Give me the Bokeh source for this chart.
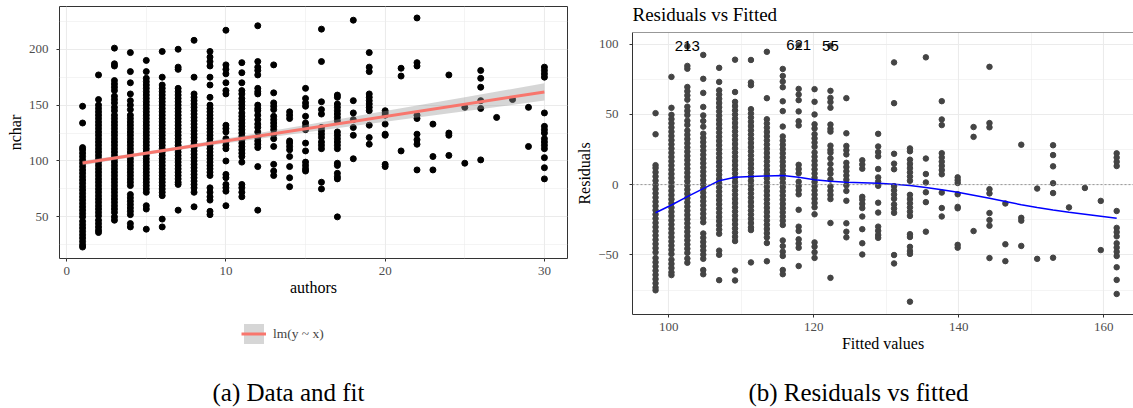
from bokeh.plotting import figure
from bokeh.models import (Range1d, FixedTicker, Label, Legend, LegendItem, Span,
                          CustomJSTickFormatter)
from bokeh.layouts import row, column
from bokeh.embed import file_html
from bokeh.resources import INLINE
from bokeh.core.properties import value

SERIF = "Liberation Serif"
SANS = "Liberation Sans"

# ---- data: nchar values observed for each number of authors ----
a01 = [149, 134, 112, 110, 107, 104, 101, 98, 95, 92, 89, 86, 83, 80, 77, 74, 71, 68, 65, 62, 59, 56, 53, 50, 46, 43, 40, 37, 34, 31, 28, 25, 23]
a02 = [177, 155, 150, 147, 144, 141, 138, 135, 132, 129, 126, 123, 120, 117, 114, 111, 108, 105, 102, 99, 96, 93, 90, 87, 84, 81, 78, 75, 72, 69, 66, 63, 60, 57, 54, 51, 47, 44, 41, 38, 36]
a03 = [201, 187, 185, 172, 169, 166, 163, 158, 155, 152, 148, 145, 141, 138, 135, 132, 129, 126, 123, 120, 117, 114, 111, 108, 105, 102, 99, 96, 93, 90, 87, 84, 81, 78, 75, 72, 69, 66, 63, 60, 57, 54, 50, 47]
a04 = [197, 180, 170, 160, 154, 150, 146, 141, 138, 135, 132, 129, 126, 123, 120, 117, 114, 111, 108, 105, 102, 99, 96, 93, 90, 87, 84, 81, 78, 70, 67, 64, 61, 58, 55, 52, 44, 41]
a05 = [190, 180, 174, 171, 168, 165, 162, 159, 156, 153, 150, 147, 144, 141, 138, 135, 132, 129, 126, 123, 120, 117, 114, 111, 108, 105, 102, 99, 96, 93, 90, 87, 84, 81, 78, 75, 72, 60, 57, 39]
a06 = [198, 175, 168, 165, 162, 159, 156, 153, 150, 147, 144, 141, 138, 135, 132, 129, 126, 123, 120, 117, 114, 111, 108, 105, 102, 99, 96, 93, 90, 87, 84, 81, 78, 75, 72, 69, 48, 41]
a07 = [200, 184, 182, 165, 162, 159, 156, 153, 150, 147, 144, 141, 138, 135, 132, 129, 126, 123, 120, 117, 114, 111, 108, 105, 102, 99, 96, 93, 90, 87, 84, 81, 79, 56]
a08 = [208, 175, 160, 157, 154, 151, 148, 145, 142, 139, 136, 133, 130, 127, 124, 121, 118, 115, 112, 109, 106, 103, 100, 97, 94, 91, 88, 85, 82, 79, 76, 72, 59]
a09 = [198, 193, 189, 185, 175, 168, 157, 150, 147, 144, 141, 138, 135, 132, 129, 126, 123, 120, 117, 114, 111, 108, 105, 102, 99, 96, 93, 90, 87, 76, 72, 68, 65, 55, 52]
a10 = [217, 186, 182, 178, 170, 163, 160, 132, 129, 126, 120, 117, 114, 111, 100, 88, 85, 79, 76, 73, 60]
a11 = [188, 179, 170, 163, 160, 156, 153, 150, 147, 143, 140, 137, 134, 131, 128, 125, 122, 119, 116, 113, 110, 107, 104, 99, 79, 76, 72, 68]
a12 = [221, 189, 184, 181, 177, 165, 162, 160, 150, 147, 145, 141, 137, 133, 130, 126, 121, 118, 115, 112, 95, 56]
a13 = [186, 161, 152, 149, 146, 140, 137, 134, 131, 128, 124, 120, 113, 97, 91, 87]
a14 = [144, 141, 138, 118, 116, 113, 110, 104, 95, 85, 77]
a15 = [165, 156, 152, 149, 140, 134, 131, 128, 116, 109, 99, 96, 93, 91]
a16 = [218, 189, 153, 146, 142, 130, 127, 124, 121, 117, 114, 111, 81, 75]
a17 = [159, 157, 151, 148, 145, 142, 139, 136, 126, 123, 120, 117, 114, 111, 98, 96, 89, 86, 84, 50]
a18 = [226, 154, 143, 137, 130, 123, 102]
a19 = [197, 184, 180, 160, 157, 154, 151, 148, 145, 132, 121, 115]
a20 = [145, 143, 141, 133, 124, 123, 97, 95]
a21 = [183, 176, 109]
a22 = [228, 188, 185, 141, 138, 124, 119, 115, 92]
a23 = [133, 104, 92]
a24 = [177, 125, 123, 105]
a25 = [148, 98]
a26 = [181, 174, 166, 154, 147, 101]
a27 = [139]
a28 = [155]
a29 = [148, 113]
a30 = [184, 181, 178, 175, 143, 131, 128, 125, 120, 117, 114, 111, 103, 94, 84]

COLUMNS = [a01, a02, a03, a04, a05, a06, a07, a08, a09, a10, a11, a12, a13, a14, a15,
           a16, a17, a18, a19, a20, a21, a22, a23, a24, a25, a26, a27, a28, a29, a30]

# fitted regression (lm(nchar ~ authors))
FIT_INTERCEPT = 95.99
FIT_SLOPE = 2.193

# confidence band half-width read along the fit
BAND_X = [1, 3, 5, 7, 10, 13, 16, 20, 25, 30]
BAND_HALF = [2.0, 1.6, 1.5, 1.6, 2.1, 2.8, 3.6, 4.8, 6.2, 7.7]

# loess smoother of residuals, evaluated at each author count
LOESS_AUTHORS = [1, 2, 3, 4, 5, 6, 7, 8, 9, 10, 11, 12, 13, 14, 15,
                 16, 17, 18, 19, 20, 21, 22, 23, 24, 25, 26, 27, 28, 29, 30]
LOESS_RESID = [-20, -14.5, -8.6, -2.8, 2.8, 5.2, 5.7, 6.2, 6.4, 5.2, 3.5, 2.4, 1.7, 1.4, 1.0,
               0.3, -0.7, -2.0, -3.6, -5.4, -7.5, -9.7, -12.0, -14.3, -16.3, -18.0, -19.6, -21.0, -22.5, -24.0]

# labelled observations (row ids) on the residual plot
LABEL_IDS = ["213", "621", "55"]
LABEL_AUTHORS = [3, 10, 12]
LABEL_NCHAR = [201, 217, 221]

# ---- assemble ----
authors, nchar = [], []
for k, vals in enumerate(COLUMNS, start=1):
    authors += [k] * len(vals)
    nchar += vals

def fit(a):
    return FIT_INTERCEPT + FIT_SLOPE * a

fitted = [fit(a) for a in authors]
resid = [n - f for n, f in zip(nchar, fitted)]

def expand(lo, hi, f=0.05):
    d = (hi - lo) * f
    return lo - d, hi + d

GRID = "#EBEBEB"
DARK = "#333333"
TICKTXT = "#4D4D4D"
BAND_COLOR = "#999999"
FIT_COLOR = "#F8766D"

def style(p):
    p.background_fill_color = "white"
    p.border_fill_color = "white"
    for ax in (p.xaxis, p.yaxis):
        ax.axis_line_color = None
        ax.major_tick_line_color = DARK
        ax.major_tick_out = 3
        ax.major_tick_in = 0
        ax.minor_tick_line_color = None
        ax.major_label_text_font = SERIF
        ax.major_label_text_font_size = "13px"
        ax.major_label_text_color = TICKTXT
        ax.axis_label_text_font = SERIF
        ax.axis_label_text_font_size = "16px"
        ax.axis_label_text_font_style = "normal"
        ax.axis_label_text_color = "black"
    for g in (p.xgrid, p.ygrid):
        g.grid_line_color = GRID
        g.grid_line_width = 1.1
        g.minor_grid_line_color = GRID
        g.minor_grid_line_width = 0.55

# strip figure above/under a panel; its frame is aligned with the panel's frame,
# so its x range is given in page pixels (frame left .. frame right)
def strip(width, height, fx0, fx1):
    s = figure(width=width, height=height, x_range=Range1d(fx0, fx1), y_range=Range1d(height, 0),
               x_axis_location=None, y_axis_location=None, output_backend="svg",
               toolbar_location=None, min_border=0)
    s.outline_line_color = None
    s.grid.visible = False
    s.background_fill_color = "white"
    s.border_fill_color = "white"
    return s

# ---- left panel: data and fit ----
x0, x1 = expand(min(authors), max(authors))
y0, y1 = expand(min(nchar), max(nchar))
p1 = figure(width=570, height=305, x_range=Range1d(x0, x1), y_range=Range1d(y0, y1),
            output_backend="svg", toolbar_location=None,
            min_border_left=59, min_border_right=3, min_border_top=6, min_border_bottom=47)
style(p1)
p1.outline_line_color = DARK
p1.outline_line_width = 1
xt1 = FixedTicker(ticks=[0, 10, 20, 30], minor_ticks=[5, 15, 25])
yt1 = FixedTicker(ticks=[50, 100, 150, 200], minor_ticks=[25, 75, 125, 175, 225])
p1.xaxis.ticker = xt1
p1.yaxis.ticker = yt1
p1.xgrid.ticker = xt1
p1.ygrid.ticker = yt1
p1.xaxis.axis_label = "authors"
p1.yaxis.axis_label = "nchar"
p1.xaxis.major_label_standoff = 4
p1.yaxis.major_label_standoff = 7
p1.xaxis.axis_label_standoff = 1
p1.yaxis.axis_label_standoff = 2

p1.scatter(authors, nchar, size=6, color="black")
p1.varea(x=BAND_X,
         y1=[fit(x) - h for x, h in zip(BAND_X, BAND_HALF)],
         y2=[fit(x) + h for x, h in zip(BAND_X, BAND_HALF)],
         fill_color=BAND_COLOR, fill_alpha=0.4)
lx = [min(authors), max(authors)]
p1.line(lx, [fit(v) for v in lx], line_color=FIT_COLOR, line_width=3)

# strip under the left panel: legend key + caption
s1 = strip(570, 103, 59, 567)
key_band = s1.varea(x=[0, 10], y1=[0, 0], y2=[10, 10], fill_color=BAND_COLOR, fill_alpha=0.4)
key_line = s1.line(x=[0, 10], y=[5, 5], line_color=FIT_COLOR, line_width=3)
legend = Legend(items=[LegendItem(label="lm(y ~ x)", renderers=[key_band, key_line])],
                location=(182, 62), glyph_width=25, glyph_height=25,
                padding=0, margin=0, label_standoff=7, spacing=0,
                label_text_font=SERIF, label_text_font_size="13.5px",
                background_fill_alpha=0, border_line_color=None)
s1.add_layout(legend)
s1.add_layout(Label(x=288, y=87, text="(a) Data and fit", text_align="center",
                    text_baseline="middle", text_font=SERIF, text_font_size="25px",
                    text_color="black"))

# ---- right panel: residuals vs fitted ----
t2 = strip(563, 30, 632, 1133)
t2.add_layout(Label(x=632, y=14, text="Residuals vs Fitted", text_align="left",
                    text_baseline="middle", text_font=SERIF, text_font_size="19px",
                    text_color="black"))

fx0, _ = expand(min(fitted), max(fitted))
ry0, ry1 = expand(min(resid), max(resid))
FX_END = 164.1
p2 = figure(width=563, height=330, x_range=Range1d(fx0, FX_END), y_range=Range1d(ry0, ry1),
            output_backend="svg", toolbar_location=None,
            min_border_left=62, min_border_right=0, min_border_top=2, min_border_bottom=46)
style(p2)
p2.outline_line_color = None
p2.xaxis.axis_line_color = DARK
p2.yaxis.axis_line_color = DARK
xt2 = FixedTicker(ticks=[100, 120, 140, 160], minor_ticks=[110, 130, 150])
yt2 = FixedTicker(ticks=[-50, 0, 50, 100], minor_ticks=[-75, -25, 25, 75])
p2.xaxis.ticker = xt2
p2.yaxis.ticker = yt2
p2.xgrid.ticker = xt2
p2.ygrid.ticker = yt2
p2.yaxis.formatter = CustomJSTickFormatter(code="return tick < 0 ? '\\u2212' + Math.abs(tick) : String(tick);")
p2.xaxis.axis_label = "Fitted values"
p2.yaxis.axis_label = "Residuals"
p2.xaxis.major_label_standoff = 4
p2.yaxis.major_label_standoff = 10
p2.xaxis.axis_label_standoff = 1
p2.yaxis.axis_label_standoff = 2
p2.add_layout(Span(location=ry1, dimension="width", line_color=DARK, line_width=1))

p2.add_layout(Span(location=0, dimension="width", line_color="#808080",
                   line_dash="2 2", line_width=0.8))
p2.scatter(fitted, resid, size=5.5, color="#444444")
p2.line([fit(a) for a in LOESS_AUTHORS], LOESS_RESID, line_color="#0000FF", line_width=1.5)
p2.text(x=[fit(a) for a in LABEL_AUTHORS],
        y=[n - fit(a) for n, a in zip(LABEL_NCHAR, LABEL_AUTHORS)],
        text=LABEL_IDS, text_font=value(SANS), text_font_size="15px",
        text_align="center", text_baseline="middle", text_color="black")

s2 = strip(563, 48, 632, 1133)
s2.add_layout(Label(x=858, y=32, text="(b) Residuals vs fitted", text_align="center",
                    text_baseline="middle", text_font=SERIF, text_font_size="25px",
                    text_color="black"))

layout = row(column(p1, s1, spacing=0), column(t2, p2, s2, spacing=0), spacing=0)
open("out.html", "w").write(file_html(layout, INLINE))
